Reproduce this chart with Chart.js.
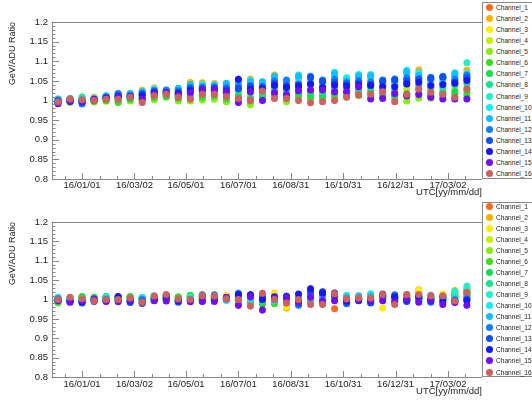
<!DOCTYPE html>
<html><head><meta charset="utf-8">
<script src="https://cdn.jsdelivr.net/npm/chart.js@4.4.1/dist/chart.umd.min.js"></script>
<style>
html,body{margin:0;padding:0;background:#fff;overflow:hidden;width:532px;height:400px}
.panel{position:absolute;left:0;width:532px;height:200px}
.legend{position:absolute;left:482px;width:70px;border:1px solid #888;background:#fff;box-sizing:border-box;font:7.6px "Liberation Sans",Arial,sans-serif;color:#222}
.row{position:absolute;left:0;height:11px;line-height:11px;white-space:nowrap}
.dot{position:absolute;left:3px;top:2px;width:7px;height:7px;border-radius:50%}
.lab{position:absolute;left:13px;top:0;transform:scaleX(0.87);transform-origin:0 50%}
</style>
</head><body>
<canvas id="c1" class="panel" style="top:0" width="532" height="200"></canvas>
<canvas id="c2" class="panel" style="top:200px" width="532" height="200"></canvas>
<div id="lg1" class="legend" style="top:2px;height:177px"></div>
<div id="lg2" class="legend" style="top:202px;height:175px"></div>
<script>
// ---------- data ----------
const dates = ['2015-12-04','2015-12-18','2016-01-01','2016-01-15','2016-01-29','2016-02-12','2016-02-26','2016-03-11','2016-03-25','2016-04-08','2016-04-22','2016-05-06','2016-05-20','2016-06-03','2016-06-17','2016-07-01','2016-07-15','2016-07-29','2016-08-12','2016-08-26','2016-09-09','2016-09-23','2016-10-07','2016-10-21','2016-11-04','2016-11-18','2016-12-02','2016-12-16','2016-12-30','2017-01-13','2017-01-27','2017-02-10','2017-02-24','2017-03-10','2017-03-24'];
const tickDates = ['2016-01-01','2016-03-02','2016-05-01','2016-07-01','2016-08-31','2016-10-31','2016-12-31','2017-03-02'];
const tickLabels = ['16/01/01','16/03/02','16/05/01','16/07/01','16/08/31','16/10/31','16/12/31','17/03/02'];
const channels = ['Channel_1','Channel_2','Channel_3','Channel_4','Channel_5','Channel_6','Channel_7','Channel_8','Channel_9','Channel_10','Channel_11','Channel_12','Channel_13','Channel_14','Channel_15','Channel_16'];
const colors = ['#f86a1c','#ffb000','#ffee00','#c4f000','#86ee10','#38e018','#10e050','#10e890','#20f0c8','#10f0f0','#10c0ff','#1080ff','#1050f0','#1818f0','#7010f0','#d06060'];

// upper panel
const T1 = [0.998,1.002,1.002,1.006,1.007,1.009,1.012,1.015,1.023,1.020,1.020,1.032,1.032,1.030,1.031,1.033,1.031,1.031,1.047,1.035,1.045,1.038,1.035,1.050,1.039,1.048,1.044,1.037,1.038,1.054,1.060,1.041,1.044,1.051,1.054];
const T2 = [1.003,1.005,1.005,1.008,1.011,1.014,1.015,1.026,1.032,1.025,1.028,1.046,1.045,1.043,1.043,1.050,1.054,1.046,1.065,1.046,1.058,1.052,1.046,1.065,1.053,1.062,1.060,1.046,1.049,1.071,1.078,1.053,1.056,1.064,1.077];
const T3 = [0.999,1.001,1.001,1.004,1.005,1.008,1.010,1.014,1.020,1.018,1.017,1.027,1.025,1.028,1.026,1.030,1.025,1.026,1.041,1.027,1.039,1.031,1.027,1.042,1.034,1.042,1.041,1.030,1.029,1.046,1.049,1.035,1.035,1.040,1.047];
const T4 = [0.996,0.999,1.001,1.001,1.002,1.003,1.006,1.007,1.013,1.014,1.012,1.015,1.016,1.019,1.014,1.018,1.012,1.017,1.025,1.019,1.026,1.021,1.019,1.028,1.026,1.030,1.028,1.023,1.020,1.030,1.035,1.024,1.027,1.030,1.033];
const T5 = [0.993,0.995,0.995,0.996,0.998,0.997,0.999,1.000,1.002,1.008,0.999,0.999,1.001,1.003,0.997,1.000,0.989,1.005,1.010,0.997,1.006,1.001,1.003,1.005,1.009,1.012,1.009,1.008,1.003,0.999,1.006,1.006,1.009,1.010,1.011];
const T6 = [0.994,0.997,0.998,0.998,1.000,0.995,1.003,1.001,1.007,1.010,1.005,1.006,1.008,1.011,1.004,1.006,0.999,1.010,1.016,1.005,1.013,1.008,1.008,1.013,1.015,1.018,1.016,1.013,1.009,1.011,1.017,1.012,1.015,1.017,1.018];
const T7 = [0.996,0.997,1.009,0.999,1.003,1.001,1.005,1.004,1.011,1.012,1.009,1.011,1.014,1.015,1.009,1.012,1.005,1.014,1.022,1.011,1.019,1.014,1.013,1.020,1.020,1.024,1.022,1.018,1.014,1.018,1.028,1.018,1.021,1.023,1.026];
const T8 = [0.997,1.000,1.004,1.001,1.009,1.005,1.008,1.009,1.017,1.015,1.013,1.022,1.023,1.021,1.021,1.027,1.021,1.020,1.034,1.027,1.029,1.025,1.022,1.031,1.031,1.033,1.035,1.028,1.026,1.042,1.038,1.032,1.033,1.040,1.044];
const T9 = [1.001,1.004,1.007,1.005,1.013,1.013,1.016,1.020,1.028,1.023,1.026,1.037,1.038,1.036,1.038,1.042,1.044,1.041,1.056,1.041,1.058,1.048,1.044,1.065,1.055,1.060,1.057,1.042,1.043,1.069,1.067,1.050,1.056,1.071,1.096];
const T10 = [1.003,1.004,1.005,1.006,1.011,1.016,1.017,1.021,1.029,1.024,1.029,1.039,1.041,1.040,1.040,1.045,1.051,1.043,1.059,1.044,1.065,1.055,1.041,1.072,1.058,1.066,1.066,1.045,1.046,1.077,1.071,1.047,1.050,1.061,1.069];
const T11 = [1.004,1.005,1.003,1.004,1.010,1.017,1.018,1.023,1.026,1.026,1.031,1.041,1.036,1.038,1.044,1.048,1.048,1.048,1.062,1.049,1.062,1.057,1.049,1.068,1.050,1.063,1.063,1.047,1.052,1.073,1.064,1.056,1.059,1.068,1.062];
const T12 = [0.999,1.000,0.991,1.003,1.008,1.018,1.013,1.018,1.025,1.027,1.025,1.034,1.034,1.034,1.033,1.036,1.038,1.036,1.050,1.052,1.042,1.062,1.052,1.054,1.045,1.051,1.047,1.052,1.055,1.058,1.056,1.059,1.062,1.054,1.065];
const T13 = [1.000,1.002,0.996,1.002,1.008,1.012,1.011,1.017,1.022,1.021,1.021,1.030,1.030,1.032,1.028,1.030,1.035,1.034,1.044,1.038,1.039,1.059,1.049,1.046,1.042,1.045,1.041,1.050,1.052,1.050,1.053,1.056,1.059,1.047,1.058];
const T14 = [0.995,0.998,0.997,1.000,1.006,1.010,1.009,1.012,1.019,1.019,1.018,1.025,1.027,1.026,1.023,1.054,1.028,1.029,1.038,1.033,1.036,1.042,1.033,1.039,1.036,1.039,1.038,1.035,1.035,1.042,1.046,1.038,1.041,1.044,1.051];
const T15 = [0.992,0.998,0.998,1.003,1.006,1.008,1.010,1.004,1.017,1.020,1.014,1.020,1.028,1.028,1.022,0.995,1.022,1.000,1.020,1.015,1.025,1.027,1.027,1.022,1.022,1.035,1.004,1.005,1.018,1.012,1.015,1.008,1.004,1.004,1.004];
const T16 = [0.997,1.004,1.002,1.000,1.003,1.003,1.008,0.995,1.012,1.016,1.008,1.004,1.016,1.016,1.010,1.005,1.000,1.024,1.005,1.005,1.000,0.994,0.997,1.000,1.008,1.014,1.016,1.022,0.997,1.016,1.029,1.021,1.016,1.008,1.029];
const topErr = [0.005,0.005,0.005,0.005,0.005,0.006,0.006,0.006,0.006,0.006,0.006,0.006,0.006,0.007,0.007,0.009,0.009,0.008,0.008,0.008,0.008,0.008,0.008,0.008,0.007,0.007,0.007,0.007,0.008,0.007,0.007,0.007,0.007,0.007,0.008];

// lower panel
const B1 = [1.002,0.999,1.003,1.001,1.004,1.002,0.998,1.001,1.004,1.006,0.999,1.005,1.004,1.006,1.006,1.004,1.000,0.998,1.009,0.995,1.003,1.010,1.006,0.976,1.001,1.005,1.006,0.999,1.004,1.007,1.015,1.004,1.006,1.015,1.018];
const B2 = [1.003,1.002,1.004,1.003,1.005,1.003,1.000,0.999,1.006,1.008,1.001,1.007,1.006,1.008,1.010,1.006,1.003,1.002,1.016,0.978,1.005,1.013,1.009,1.003,1.003,1.006,1.008,1.002,1.006,1.010,1.025,1.006,1.011,1.023,1.024];
const B3 = [1.001,1.001,1.002,1.000,1.003,1.004,1.001,0.996,1.005,1.004,1.003,1.006,1.005,1.004,1.008,1.003,0.998,1.004,1.014,0.981,1.002,1.008,1.004,1.006,0.999,1.003,1.005,0.978,1.002,1.005,1.023,1.008,1.014,1.019,1.021];
const B4 = [0.996,0.997,1.006,1.004,1.002,1.006,1.005,0.998,1.002,1.002,1.005,1.008,1.002,1.000,1.004,0.998,0.996,0.994,1.006,0.990,0.998,1.002,0.996,1.000,0.997,1.002,1.002,1.000,0.999,1.002,1.013,1.005,1.008,1.011,1.014];
const B5 = [0.991,0.995,1.007,1.005,1.006,1.007,1.007,1.000,1.001,1.000,1.006,1.010,1.000,0.999,1.002,0.996,0.994,0.990,0.993,0.994,0.996,0.998,0.993,1.002,0.995,1.000,0.999,1.003,0.997,1.000,1.010,1.003,1.004,1.008,1.011];
const B6 = [0.993,0.996,1.008,1.006,1.007,1.006,1.008,1.002,1.000,0.999,1.007,1.011,0.999,0.997,1.000,0.995,0.992,0.988,0.989,0.996,0.995,0.996,0.991,1.004,0.993,0.999,0.997,1.005,0.995,0.998,1.007,1.001,1.002,1.006,1.013];
const B7 = [0.995,0.998,1.005,1.004,1.008,1.005,1.006,1.003,1.003,1.001,1.004,1.009,1.001,1.001,1.003,0.999,0.997,0.996,0.995,0.998,0.997,1.000,0.998,1.005,0.998,1.001,1.000,1.006,1.000,1.001,1.005,1.002,1.000,1.010,1.016];
const B8 = [0.997,1.000,1.003,1.002,1.007,1.004,1.003,1.005,1.007,1.003,1.002,1.007,1.003,1.003,1.001,1.001,0.999,0.999,0.998,1.000,0.999,1.003,1.001,1.007,1.004,1.003,1.010,1.008,1.001,1.004,1.003,1.004,1.003,1.017,1.028];
const B9 = [1.006,1.004,1.001,1.003,1.006,1.002,1.002,1.006,1.008,1.005,1.000,1.005,1.007,1.005,0.999,1.007,1.002,1.001,1.000,1.002,1.001,1.005,1.004,1.009,1.011,1.007,1.015,1.009,1.003,1.008,1.001,1.007,1.001,1.021,1.034];
const B10 = [1.005,1.003,0.999,1.001,1.004,1.000,1.000,1.004,1.010,1.007,0.998,1.003,1.009,1.007,0.998,1.009,1.004,1.003,0.997,1.004,1.003,1.007,1.007,1.011,1.009,1.008,1.012,1.007,1.005,1.011,0.999,1.009,0.999,1.004,1.022];
const B11 = [1.003,1.001,0.996,0.999,1.002,0.998,0.997,1.002,1.008,1.009,0.996,1.001,1.011,1.010,0.999,1.012,1.006,1.006,0.999,1.006,1.005,1.010,1.011,1.010,1.006,1.010,1.009,1.005,1.008,1.013,0.997,1.011,0.996,1.001,1.008];
const B12 = [1.001,0.997,0.993,0.997,1.000,0.997,0.994,1.000,1.003,1.010,0.995,0.998,1.012,1.012,1.002,1.016,1.009,1.009,1.002,1.009,0.985,1.016,1.014,1.012,0.989,0.999,0.993,1.010,1.012,0.996,1.003,0.993,1.005,0.999,1.003];
const B13 = [0.999,0.995,0.991,0.995,0.998,1.006,0.992,0.990,1.001,1.011,0.993,0.996,1.008,1.004,1.004,1.011,1.011,1.004,1.004,1.003,0.990,1.022,1.020,1.008,0.992,0.997,0.991,1.014,1.009,0.995,1.006,0.995,1.008,0.997,1.000];
const B14 = [0.998,0.994,0.994,0.998,0.996,1.008,0.996,0.992,0.998,1.004,0.997,0.999,0.996,0.998,1.005,1.013,1.012,1.000,1.007,1.007,1.014,1.028,1.017,1.017,0.996,0.998,0.996,1.011,1.006,0.999,1.008,0.998,0.994,0.995,0.997];
const B15 = [0.997,0.993,0.997,1.002,0.995,0.994,0.999,0.994,0.997,0.996,0.999,0.994,0.995,0.995,1.005,0.985,1.007,0.973,1.003,1.005,0.994,1.006,0.997,0.997,1.000,1.000,0.998,0.997,0.994,1.001,0.993,1.000,0.987,0.992,0.985];
const B16 = [1.000,1.006,1.002,0.997,1.000,1.000,1.004,0.993,1.009,1.013,1.002,1.000,1.010,1.009,1.002,1.000,0.983,1.016,1.000,0.991,1.000,0.987,0.987,1.015,1.002,1.004,1.004,1.013,0.987,1.013,1.013,1.010,1.010,0.996,1.019];
const botErr = [0.005,0.005,0.005,0.005,0.005,0.005,0.005,0.005,0.005,0.005,0.005,0.006,0.006,0.006,0.006,0.009,0.009,0.009,0.008,0.008,0.008,0.008,0.008,0.008,0.007,0.007,0.007,0.007,0.007,0.007,0.007,0.007,0.007,0.007,0.008];

const yTitle = 'GeV/ADU Ratio';
const xTitle = 'UTC[yy/mm/dd]';

// ---------- helpers ----------
const FONT = '"Liberation Sans", Arial, Helvetica, sans-serif';
const day0 = Date.UTC(2016,0,1);
const toDay = s => { const [y,m,d] = s.split('-').map(Number); return (Date.UTC(y,m-1,d) - day0) / 86400000; };
const xs = dates.map(toDay);
const majors = tickDates.map(toDay);
const xTicks = [];
const step0 = (majors[1]-majors[0])/3;
xTicks.push({value: majors[0]-step0, major:false});
majors.forEach((m,i)=>{
  xTicks.push({value:m, major:true});
  const nxt = i < majors.length-1 ? majors[i+1] : m + (m - majors[i-1]);
  const st = (nxt - m)/3;
  xTicks.push({value:m+st, major:false});
  if (i < majors.length-1) xTicks.push({value:m+2*st, major:false});
});
const yTicks = [];
for (let k=80;k<=120;k++) yTicks.push({value:k/100, major: k%5===0});

const errPlugin = {
  id:'errBars',
  beforeDatasetDraw(chart, args){
    const ds = chart.data.datasets[args.index];
    const ys = chart.scales.y, ctx = chart.ctx;
    ctx.save();
    ctx.strokeStyle = ds.backgroundColor; ctx.lineWidth = 1.6;
    args.meta.data.forEach((pt,j)=>{
      const v = ds.data[j].y, e = ds.errs[j];
      ctx.beginPath();
      ctx.moveTo(pt.x, ys.getPixelForValue(v+e));
      ctx.lineTo(pt.x, ys.getPixelForValue(v-e));
      ctx.stroke();
    });
    ctx.restore();
  }
};
const framePlugin = {
  id:'frame',
  afterDraw(chart){
    const {ctx, chartArea:a, scales} = chart;
    ctx.save();
    ctx.strokeStyle = '#888'; ctx.lineWidth = 1;
    ctx.beginPath();
    ctx.moveTo(a.left+0.5, a.bottom+0.5); ctx.lineTo(a.left+0.5, a.top+0.5); ctx.lineTo(a.right, a.top+0.5);
    ctx.moveTo(a.left, a.bottom+0.5); ctx.lineTo(a.right, a.bottom+0.5);
    scales.y.ticks.forEach(t=>{
      const y = Math.round(scales.y.getPixelForValue(t.value))+0.5;
      ctx.moveTo(a.left, y); ctx.lineTo(a.left + (t.major?7:3.5), y);
    });
    scales.x.ticks.forEach(t=>{
      const x = Math.round(scales.x.getPixelForValue(t.value))+0.5;
      ctx.moveTo(x, a.bottom); ctx.lineTo(x, a.bottom - (t.major?6:3));
    });
    ctx.stroke();
    ctx.restore();
  }
};

function makeChart(id, series, errs, cfg){
  const datasets = series.map((vals,i)=>({
    label: channels[i],
    data: xs.map((x,j)=>({x, y: vals[j]})),
    backgroundColor: colors[i], borderColor: colors[i],
    pointRadius: 3.5, pointHoverRadius: 3.5, pointBorderWidth: 0, borderWidth: 0,
    order: series.length - i, errs
  }));
  const font = {family: FONT, size: 9.5};
  return new Chart(document.getElementById(id), {
    type:'scatter',
    data:{datasets},
    options:{
      responsive:false, animation:false, devicePixelRatio:1,
      layout:{padding:{top:cfg.top, right:50, left:0, bottom:0}},
      plugins:{legend:{display:false}, tooltip:{enabled:false}},
      scales:{
        x:{type:'linear', min:-35, max:465.6,
          grid:{display:false, drawTicks:false}, border:{display:false},
          afterBuildTicks: s => { s.ticks = xTicks.map(t=>({value:t.value, major:t.major})); },
          ticks:{autoSkip:false, maxRotation:0, minRotation:0, padding:cfg.xpad, color:'#222', font,
            callback:(v,i,t)=>{ const k = majors.findIndex(m=>Math.abs(m-v)<1e-6); return k>=0 ? tickLabels[k] : ''; }},
          title:{display:true, text:xTitle, align:'end', color:'#222', font:{family:FONT,size:9.5}, padding:{top:0,bottom:cfg.tpad}},
          afterFit: s => { s.height = cfg.xh; }
        },
        y:{min:0.8, max:1.2,
          grid:{display:false, drawTicks:false}, border:{display:false},
          afterBuildTicks: s => { s.ticks = yTicks.map(t=>({value:t.value, major:t.major})); },
          ticks:{autoSkip:false, padding:4, color:'#222', font,
            callback:(v,i)=> yTicks[i].major ? String(+v.toFixed(2)) : ''},
          title:{display:true, text:yTitle, align:'end', color:'#222', font:{family:FONT,size:9}, padding:{top:7.5,bottom:0}},
          afterFit: s => { s.width = 52; }
        }
      }
    },
    plugins:[errPlugin, framePlugin]
  });
}

makeChart('c1', [T1,T2,T3,T4,T5,T6,T7,T8,T9,T10,T11,T12,T13,T14,T15,T16], topErr, {top:22, xh:21, xpad:1, tpad:1.6});
makeChart('c2', [B1,B2,B3,B4,B5,B6,B7,B8,B9,B10,B11,B12,B13,B14,B15,B16], botErr, {top:22, xh:23, xpad:2, tpad:2.6});

function buildLegend(id, firstCenter, spacing){
  const box = document.getElementById(id);
  const boxTop = parseFloat(box.style.top);
  channels.forEach((name,i)=>{
    const r = document.createElement('div');
    r.className = 'row';
    r.style.top = (firstCenter + spacing*i - boxTop - 1 - 5.5) + 'px';
    r.innerHTML = '<span class="dot" style="background:'+colors[i]+'"></span><span class="lab">'+name+'</span>';
    box.appendChild(r);
  });
}
buildLegend('lg1', 7, 11.13);
buildLegend('lg2', 206, 11.07);
</script>
</body></html>
